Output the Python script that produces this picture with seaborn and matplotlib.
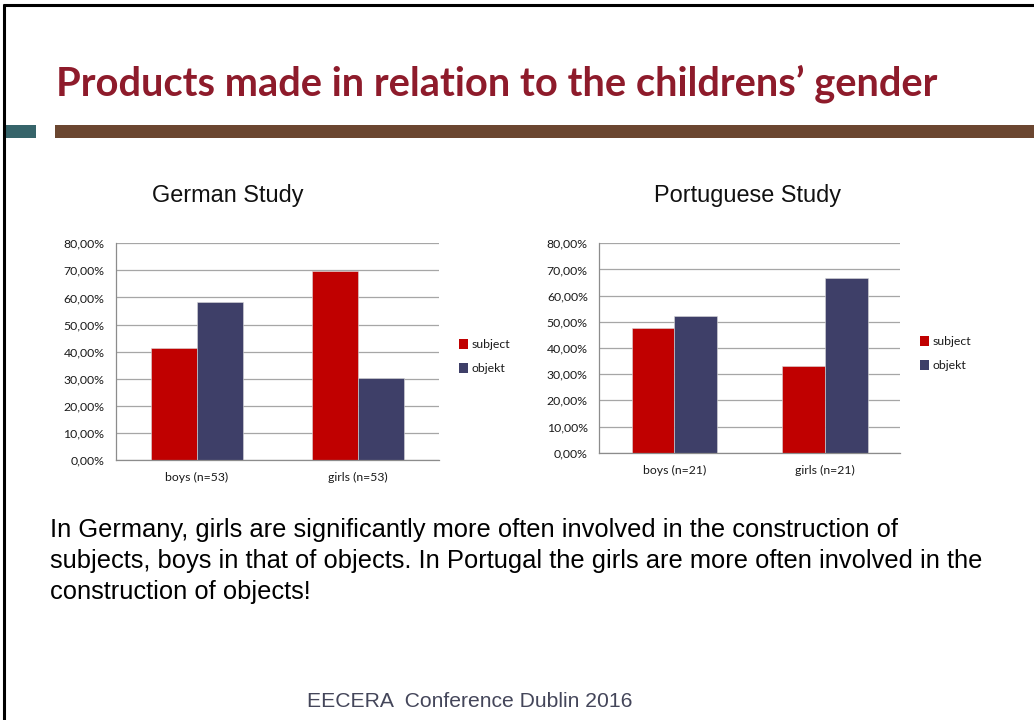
import matplotlib
matplotlib.use("Agg")
import matplotlib.pyplot as plt
import matplotlib.ticker as mticker
from matplotlib.patches import Rectangle, Patch
from matplotlib.lines import Line2D
import seaborn as sns
import pandas as pd

# ---------------- data ----------------
german_categories = ["boys (n=53)", "girls (n=53)"]
german_subject = [41.5, 69.8]
german_objekt = [58.5, 30.2]

portuguese_categories = ["boys (n=21)", "girls (n=21)"]
portuguese_subject = [47.6, 33.3]
portuguese_objekt = [52.4, 66.7]

series_names = ["subject", "objekt"]
yticks = [0, 10, 20, 30, 40, 50, 60, 70, 80]

title_text = "Products made in relation to the childrens\u2019 gender"
chart_titles = ["German Study", "Portuguese Study"]
body_lines = [
    "In Germany, girls are significantly more often involved in the construction of",
    "subjects, boys in that of objects. In Portugal the girls are more often involved in the",
    "construction of objects!",
]
footer_text = "EECERA  Conference Dublin 2016"

# ---------------- style ----------------
sns.set_theme(style="white")
plt.rcParams["font.family"] = ["Liberation Sans", "DejaVu Sans"]

W, H = 1034, 720
fig = plt.figure(figsize=(W / 100, H / 100), dpi=100)
fig.patch.set_facecolor("white")

RED = "#C00000"
NAVY = "#3E3F68"
GRID = "#A6A6A6"
TICKFONT = ["Lato", "DejaVu Sans"]


def px2fig(x0, y0, x1, y1):
    return [x0 / W, 1 - y1 / H, (x1 - x0) / W, (y1 - y0) / H]


def make_df(cats, subj, obj):
    rows = []
    for c, s, o in zip(cats, subj, obj):
        rows.append({"cat": c, "series": series_names[0], "value": s})
        rows.append({"cat": c, "series": series_names[1], "value": o})
    return pd.DataFrame(rows)


def draw_chart(rect, cats, subj, obj, legend_px):
    ax = fig.add_axes(rect)
    df = make_df(cats, subj, obj)
    sns.barplot(data=df, x="cat", y="value", hue="series", order=cats,
                hue_order=series_names, palette=[RED, NAVY], width=0.57,
                ax=ax, legend=False, edgecolor="#d9d9d9", linewidth=0.4,
                saturation=1)
    ax.set_ylim(0, 80)
    ax.set_xlim(-0.5, len(cats) - 0.5)
    ax.set_yticks(yticks)
    ax.yaxis.set_major_formatter(
        mticker.FuncFormatter(lambda v, p: f"{v:.2f}%".replace(".", ",")))
    ax.set_axisbelow(True)
    ax.yaxis.grid(True, color=GRID, linewidth=0.9)
    ax.xaxis.grid(False)
    for s in ["top", "right"]:
        ax.spines[s].set_visible(False)
    for s in ["left", "bottom"]:
        ax.spines[s].set_color("#8c8c8c")
        ax.spines[s].set_linewidth(0.9)
    ax.set_xlabel("")
    ax.set_ylabel("")
    ax.tick_params(axis="y", which="major", length=4.3, width=0.8,
                   color="#8c8c8c", pad=4, labelsize=8.8, labelcolor="#1a1a1a")
    ax.tick_params(axis="x", which="major", length=0, pad=8.5,
                   labelsize=8.8, labelcolor="#1a1a1a")
    ax.set_xticks(range(len(cats)))
    ax.set_xticklabels(cats)
    ax.set_xticks([i - 0.5 for i in range(len(cats) + 1)], minor=True)
    ax.tick_params(axis="x", which="minor", length=4.3, width=0.8,
                   color="#8c8c8c", direction="out")
    for lab in ax.get_xticklabels() + ax.get_yticklabels():
        lab.set_family(TICKFONT)
    handles = [Patch(facecolor=RED, edgecolor="none"),
               Patch(facecolor=NAVY, edgecolor="none")]
    lx, ly = legend_px
    leg = ax.legend(handles, series_names, loc="upper left",
                    bbox_to_anchor=(lx / W, 1 - ly / H),
                    bbox_transform=fig.transFigure, frameon=False,
                    handlelength=0.75, handleheight=0.85, handletextpad=0.3,
                    labelspacing=1.05, borderaxespad=0, borderpad=0,
                    prop={"family": TICKFONT, "size": 8.8})
    for t in leg.get_texts():
        t.set_color("#1a1a1a")
    return ax


draw_chart(px2fig(116, 243.3, 439, 460), german_categories,
           german_subject, german_objekt, (459, 339))
draw_chart(px2fig(599.3, 243.3, 900, 452.7), portuguese_categories,
           portuguese_subject, portuguese_objekt, (920, 336))

# chart titles
fig.text(228 / W, 1 - 201.7 / H, chart_titles[0], ha="center", va="baseline",
         fontsize=16.9, color="#111111")
fig.text(748 / W, 1 - 201.7 / H, chart_titles[1], ha="center", va="baseline",
         fontsize=16.9, color="#111111")

# slide decorations
fig.add_artist(Line2D([3 / W, 1], [1 - 5 / H, 1 - 5 / H], transform=fig.transFigure,
                      color="black", linewidth=2.2, solid_capstyle="butt"))
fig.add_artist(Line2D([4 / W, 4 / W], [0, 1 - 4 / H], transform=fig.transFigure,
                      color="black", linewidth=2.2, solid_capstyle="butt"))
fig.add_artist(Rectangle((5 / W, 1 - 138 / H), 31 / W, 13 / H,
                         transform=fig.transFigure, facecolor="#36646A",
                         edgecolor="none"))
fig.add_artist(Rectangle((55 / W, 1 - 138 / H), (W - 55) / W, 13 / H,
                         transform=fig.transFigure, facecolor="#6B4630",
                         edgecolor="none"))

# main title, fitted to the reference width
title = fig.text(56 / W, 1 - 95.5 / H, title_text, ha="left", va="baseline",
                 fontsize=28, fontweight="bold", color="#8E1B2B",
                 family=["Lato", "DejaVu Sans"])
fig.canvas.draw()
bb = title.get_window_extent(renderer=fig.canvas.get_renderer())
title.set_fontsize(28 * 884 / bb.width)

# body text
baselines = [537, 568, 598.5]
for line, yb in zip(body_lines, baselines):
    fig.text(50 / W, 1 - yb / H, line, ha="left", va="baseline",
             fontsize=18.4, color="#000000")

# footer
fig.text(470 / W, 1 - 706.7 / H, footer_text, ha="center", va="baseline",
         fontsize=15.2, color="#44465A")

fig.savefig("out.png", dpi=100, facecolor="white")
